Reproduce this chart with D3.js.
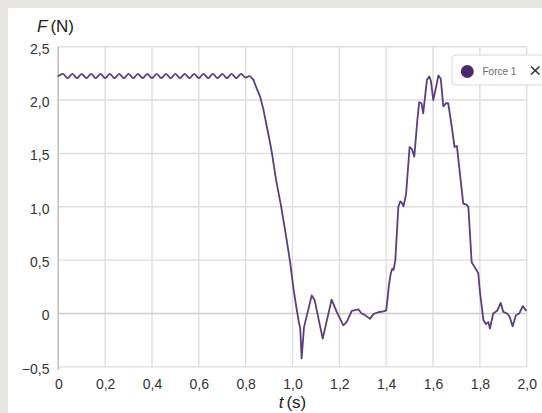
<!DOCTYPE html>
<html>
<head>
<meta charset="utf-8">
<script src="https://cdn.jsdelivr.net/npm/d3@7"></script>
<style>
html,body{margin:0;padding:0;background:#e8e6e3;}
svg{display:block;}
</style>
</head>
<body>
<svg id="chart" width="542" height="413"></svg>
<script>
// ---- data ----
const timeS = [
  0.00,0.02,0.04,0.06,0.08,0.10,0.12,0.14,0.16,0.18,0.20,0.22,0.24,0.26,0.28,0.30,
  0.32,0.34,0.36,0.38,0.40,0.42,0.44,0.46,0.48,0.50,0.52,0.54,0.56,0.58,0.60,0.62,
  0.64,0.66,0.68,0.70,0.72,0.74,0.76,0.78,0.80,0.815,0.833,0.847,0.862,0.875,0.897,
  0.911,0.93,0.95,0.97,0.99,1.005,1.015,1.027,1.033,1.039,1.049,1.082,1.094,
  1.129,1.167,1.189,1.217,1.231,1.253,1.281,1.295,1.310,1.331,1.345,1.366,1.388,
  1.400,1.405,1.412,1.420,1.426,1.432,1.439,1.452,1.460,1.466,1.474,1.485,1.500,
  1.510,1.520,1.533,1.541,1.551,1.558,1.574,1.584,1.591,1.601,1.613,1.623,1.633,
  1.644,1.655,1.665,1.680,1.692,1.702,1.715,1.729,1.743,1.751,1.765,1.779,1.793,
  1.801,1.815,1.826,1.836,1.843,1.857,1.874,1.889,1.900,1.917,1.927,1.940,1.954,
  1.968,1.983,1.997
];
const forceN = [
  2.225,2.245,2.205,2.245,2.205,2.245,2.205,2.245,2.205,2.245,2.205,2.245,2.205,2.245,2.205,2.245,
  2.205,2.245,2.205,2.245,2.205,2.245,2.205,2.245,2.205,2.245,2.205,2.245,2.205,2.245,2.205,2.245,
  2.205,2.245,2.205,2.245,2.205,2.245,2.205,2.245,2.21,2.225,2.19,2.11,2.03,1.92,1.68,
  1.52,1.25,1.02,0.76,0.48,0.22,0.08,-0.08,-0.14,-0.42,-0.13,0.17,0.13,
  -0.235,0.13,0.015,-0.11,-0.08,0.025,0.04,0.0,-0.015,-0.05,-0.006,0.012,0.02,
  0.03,0.12,0.27,0.38,0.42,0.41,0.50,1.00,1.05,1.04,1.005,1.12,1.56,
  1.54,1.47,1.81,1.98,1.97,1.875,2.19,2.22,2.18,2.00,2.12,2.23,2.20,
  1.94,1.97,1.97,1.75,1.56,1.57,1.31,1.03,1.02,1.00,0.48,0.43,0.38,
  0.19,-0.06,-0.10,-0.08,-0.14,0.0,0.025,0.10,0.015,0.0,-0.03,-0.12,-0.016,
  0.0,0.07,0.03
];
const xTicks = [0,0.2,0.4,0.6,0.8,1.0,1.2,1.4,1.6,1.8,2.0];
const xTickLabels = ["0","0,2","0,4","0,6","0,8","1,0","1,2","1,4","1,6","1,8","2,0"];
const yTicks = [-0.5,0,0.5,1.0,1.5,2.0,2.5];
const yTickLabels = ["\u22120,5","0","0,5","1,0","1,5","2,0","2,5"];
const seriesName = "Force 1";

// ---- drawing ----
const svg = d3.select("#chart");
const font = "'Liberation Sans', Arial, Helvetica, sans-serif";
const lineColor = "#5b3d80";

svg.append("rect").attr("x",8).attr("y",8).attr("width",534).attr("height",405).attr("fill","#ffffff");

const x = d3.scaleLinear().domain([0,2]).range([58.3,526.7]);
const y = d3.scaleLinear().domain([-0.5,2.5]).range([366.9,46.7]);

// grid
const grid = svg.append("g");
grid.selectAll("line.v").data(xTicks).join("line")
  .attr("x1",d=>x(d)).attr("x2",d=>x(d))
  .attr("y1",y(2.5)).attr("y2",y(-0.5))
  .attr("stroke",(d,i)=> i===0 ? "#c9c9c9" : "#dedede").attr("stroke-width",1.4);
grid.selectAll("line.h").data(yTicks).join("line")
  .attr("x1",x(0)).attr("x2",x(2))
  .attr("y1",d=>y(d)).attr("y2",d=>y(d))
  .attr("stroke",d=> d===0 ? "#cdcdcd" : "#dedede").attr("stroke-width",1.4);
svg.append("line").attr("x1",x(0)).attr("x2",x(0)).attr("y1",y(2.5)).attr("y2",y(-0.5)+3)
  .attr("stroke","#c4c4c4").attr("stroke-width",1.5);

// tick labels via d3.axis
const yAxis = d3.axisLeft(y).tickValues(yTicks).tickSize(0).tickPadding(0)
  .tickFormat((d,i)=>yTickLabels[i]);
const gy = svg.append("g").attr("transform","translate(49.5,0)").call(yAxis);
gy.select(".domain").remove();
gy.selectAll("text").attr("font-family",font).attr("font-size",14).attr("fill","#333").attr("dy","0.45em");

const xAxis = d3.axisBottom(x).tickValues(xTicks).tickSize(0).tickPadding(0)
  .tickFormat((d,i)=>xTickLabels[i]);
const gx = svg.append("g").attr("transform","translate(0,378)").call(xAxis);
gx.select(".domain").remove();
gx.selectAll("text").attr("font-family",font).attr("font-size",14).attr("fill","#333").attr("dy","0.75em");

// axis titles
const fT = svg.append("text").attr("x",37).attr("y",31.5).attr("font-family",font).attr("font-size",17).attr("fill","#222");
fT.append("tspan").attr("font-style","italic").text("F");
fT.append("tspan").attr("dx",3).text("(N)");
const tT = svg.append("text").attr("x",292.5).attr("y",408).attr("text-anchor","middle").attr("font-family",font).attr("font-size",17).attr("fill","#222");
tT.append("tspan").attr("font-style","italic").text("t");
tT.append("tspan").attr("dx",3).text("(s)");

// line: smooth steady-state part, then straight segments
const data = timeS.map((t,i)=>({t, f: forceN[i]}));
const splitAt = data.findIndex(d=>d.t>=0.833);
const smoothPart = data.slice(0, splitAt+1);
const restPart = data.slice(splitAt);
const lineSmooth = d3.line().x(d=>x(d.t)).y(d=>y(d.f)).curve(d3.curveMonotoneX);
const lineStraight = d3.line().x(d=>x(d.t)).y(d=>y(d.f)).curve(d3.curveLinear);
svg.append("path").datum(smoothPart).attr("d",lineSmooth).attr("fill","none")
  .attr("stroke",lineColor).attr("stroke-width",1.8).attr("stroke-linejoin","round").attr("stroke-linecap","round");
svg.append("path").datum(restPart).attr("d",lineStraight).attr("fill","none")
  .attr("stroke",lineColor).attr("stroke-width",1.8).attr("stroke-linejoin","round").attr("stroke-linecap","round");

// legend
const lg = svg.append("g");
lg.append("rect").attr("x",452).attr("y",55).attr("width",92).attr("height",30).attr("rx",4)
  .attr("fill","#ffffff").attr("stroke","#d8d8d8").attr("stroke-width",1);
lg.append("circle").attr("cx",467.3).attr("cy",71.5).attr("r",6.5).attr("fill","#4a2a6e");
lg.append("text").attr("x",482.5).attr("y",75).attr("font-family",font).attr("font-size",10).attr("fill","#6a6a6a").text(seriesName);
lg.append("line").attr("x1",531).attr("y1",66.5).attr("x2",539.5).attr("y2",74.5).attr("stroke","#333").attr("stroke-width",1.7);
lg.append("line").attr("x1",539.5).attr("y1",66.5).attr("x2",531).attr("y2",74.5).attr("stroke","#333").attr("stroke-width",1.7);
</script>
</body>
</html>
